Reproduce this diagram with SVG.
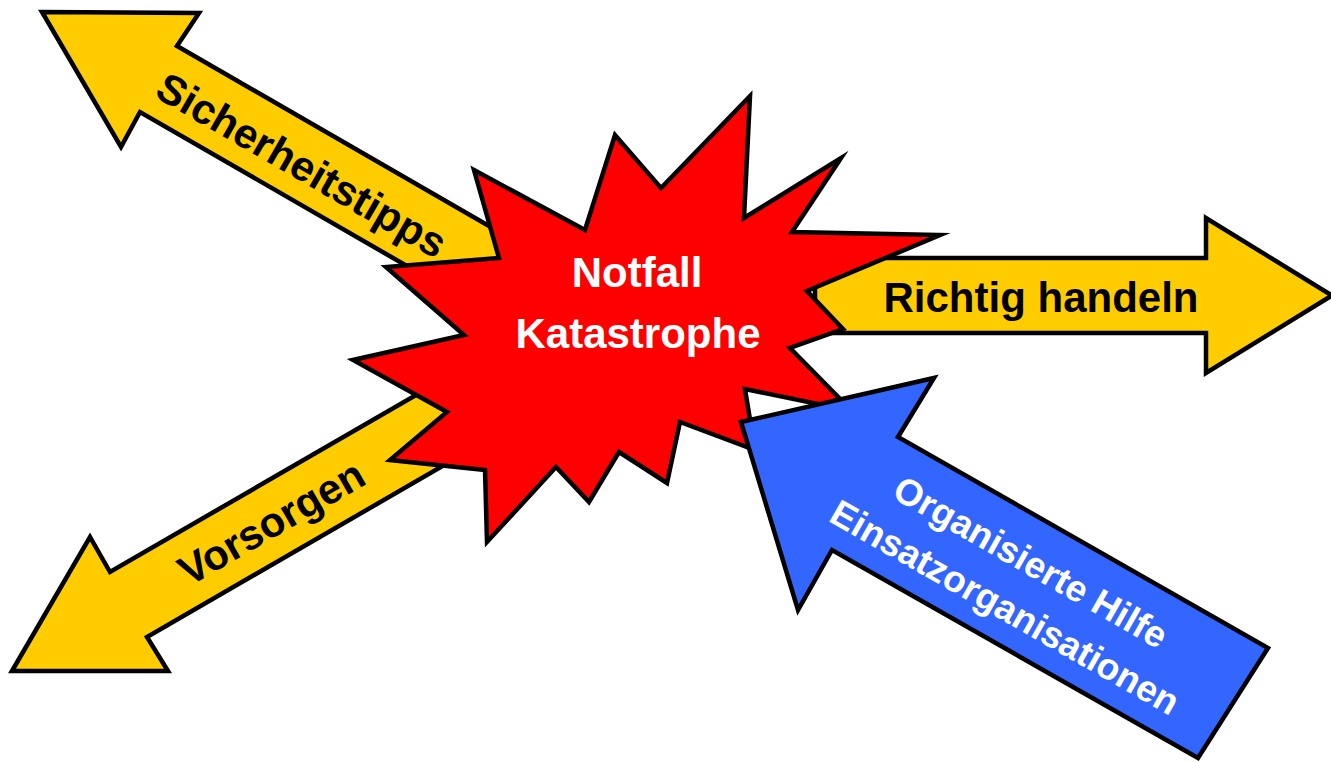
<svg xmlns="http://www.w3.org/2000/svg" width="1331" height="762" viewBox="0 0 1331 762">
  <style>
    .outline { stroke: #000000; stroke-width: 4.5; stroke-linejoin: miter; stroke-miterlimit: 10; }
    .yellow { fill: #FFCC00; }
    .red { fill: #FF0000; }
    .blue { fill: #3366FF; }
    .lbl { font-family: "Liberation Sans", Arial, Helvetica, sans-serif; font-weight: bold; font-size: 42px; text-anchor: middle; }
    .dark { fill: #000000; }
    .light { fill: #FFFFFF; }
  </style>
  <rect x="0" y="0" width="1331" height="762" fill="#FFFFFF"/>

  <g id="connectors">
    <g id="arrow-sicherheitstipps">
      <polygon class="outline yellow" points="42,12 199,13 177,46 515,241 478,307 140,112 121,147"/>
      <text class="lbl dark" transform="translate(303,163) rotate(30)" x="0" y="17">Sicherheitstipps</text>
    </g>
    <g id="arrow-vorsorgen">
      <polygon class="outline yellow" points="12,671 90,537 110,572 435,384 472,449 147,637 168,671"/>
      <text class="lbl dark" transform="translate(271,522) rotate(-30)" x="0" y="15">Vorsorgen</text>
    </g>
    <g id="arrow-richtig-handeln">
      <polygon class="outline yellow" points="815,258 1206,258 1206,218 1332,295.5 1206,373 1206,333 815,333"/>
      <text class="lbl dark" x="1041" y="312">Richtig handeln</text>
    </g>
  </g>

  <g id="node-notfall">
    <polygon class="outline red" points="474,170 585,230 615,135 661,188 750,96 744,218 841,158 792,232 940,235 807,291 843,329 790,348 852,411 745,389 755,450 680,422 667,483 619,452 589,502 556,467 487,542 485,470 390,460 447,412 353,360 464,335 386,267 499,258"/>
    <text class="lbl light" x="637" y="287">Notfall</text>
    <text class="lbl light" x="638" y="348">Katastrophe</text>
  </g>

  <g id="arrow-organisierte-hilfe">
    <polygon class="outline blue" points="741,422 934,378 898,437 1268,648 1198,758 832,550 798,610"/>
    <g transform="translate(1020,581) rotate(29.7)">
      <text class="lbl light" style="font-size:37px" x="0" y="-9">Organisierte Hilfe</text>
      <text class="lbl light" style="font-size:37px" x="0" y="43">Einsatzorganisationen</text>
    </g>
  </g>
</svg>
